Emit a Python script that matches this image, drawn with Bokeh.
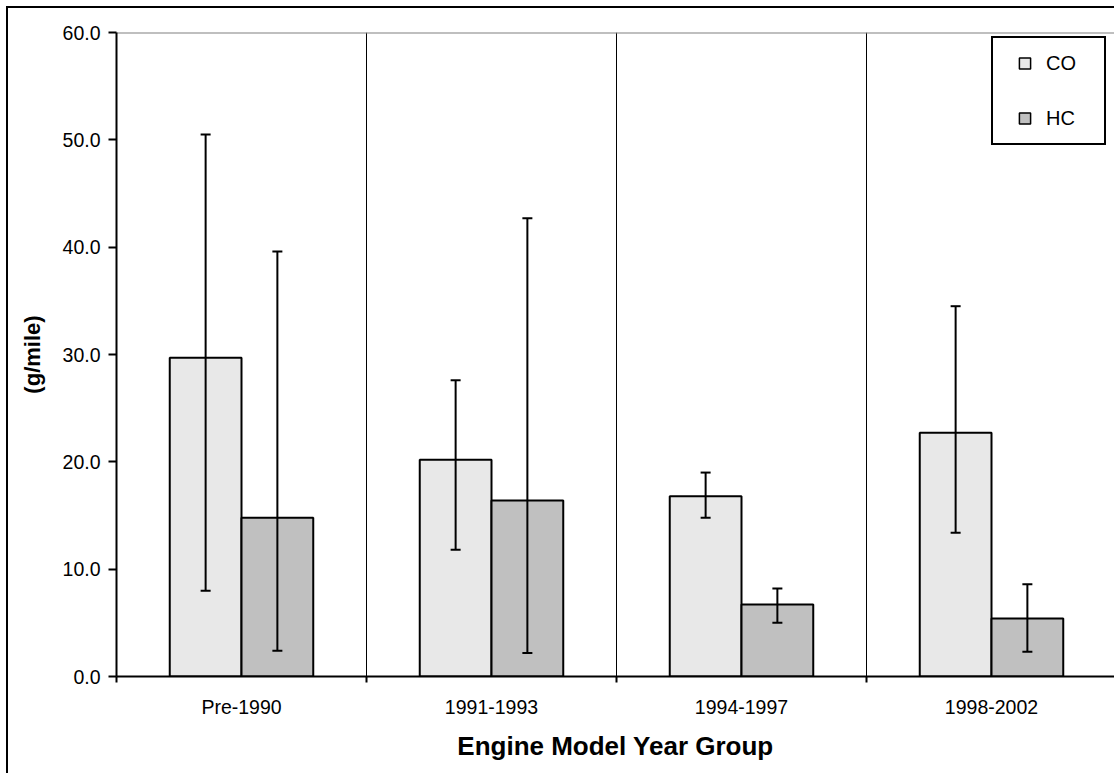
from bokeh.plotting import figure
from bokeh.models import (ColumnDataSource, Range1d, FixedTicker, Whisker, TeeHead,
                          Legend, LegendItem, PrintfTickFormatter, Span)
from bokeh.embed import file_html
from bokeh.resources import INLINE

# ---- data ----
categories = ["Pre-1990", "1991-1993", "1994-1997", "1998-2002"]
co_mean = [29.7, 20.2, 16.8, 22.7]
co_upper = [50.5, 27.6, 19.0, 34.5]
co_lower = [8.0, 11.8, 14.8, 13.4]
hc_mean = [14.8, 16.4, 6.7, 5.4]
hc_upper = [39.6, 42.7, 8.2, 8.6]
hc_lower = [2.4, 2.2, 5.0, 2.3]
y_ticks = [0, 10, 20, 30, 40, 50, 60]

FONT = "Liberation Sans"
CO_FILL = "#E8E8E8"
HC_FILL = "#C0C0C0"

n = len(categories)
centers = [i + 0.5 for i in range(n)]
bar_w = 0.287
co_x = [c - bar_w / 2 for c in centers]
hc_x = [c + bar_w / 2 for c in centers]

p = figure(width=1114, height=773, output_backend="svg", toolbar_location=None,
           x_range=Range1d(0, 3.992), y_range=Range1d(0, 60),
           min_border_left=116, min_border_top=32, min_border_bottom=97,
           min_border_right=0)
p.outline_line_color = None
p.background_fill_color = "white"
p.border_fill_color = None
# outer chart-area frame: only its left and top edges fall inside the picture
p.styles = {
    "background-color": "white",
    "background-image": "linear-gradient(#000, #000), linear-gradient(#000, #000)",
    "background-size": "2px 100%, 100% 2px",
    "background-position": "6px 6px, 6px 6px",
    "background-repeat": "no-repeat",
}

# grids: category separators and top line
p.xgrid.ticker = FixedTicker(ticks=[1, 2, 3])
p.xgrid.grid_line_color = "black"
p.xgrid.grid_line_width = 1
p.ygrid.grid_line_color = None
p.add_layout(Span(location=60, dimension="width", line_color="#808080",
                  line_width=2, level="underlay"))

co_src = ColumnDataSource(dict(x=co_x, top=co_mean, upper=co_upper, lower=co_lower))
hc_src = ColumnDataSource(dict(x=hc_x, top=hc_mean, upper=hc_upper, lower=hc_lower))

p.vbar(x="x", top="top", bottom=0, width=bar_w, source=co_src,
       fill_color=CO_FILL, line_color="black", line_width=2)
p.vbar(x="x", top="top", bottom=0, width=bar_w, source=hc_src,
       fill_color=HC_FILL, line_color="black", line_width=2)

for src in (co_src, hc_src):
    w = Whisker(base="x", upper="upper", lower="lower", source=src,
                line_color="black", line_width=2, level="annotation",
                upper_head=TeeHead(size=10, line_width=2, line_color="black"),
                lower_head=TeeHead(size=10, line_width=2, line_color="black"))
    p.add_layout(w)

# x axis
xa = p.xaxis[0]
xa.ticker = FixedTicker(ticks=centers, minor_ticks=[0, 1, 2, 3])
xa.major_label_overrides = {c: lab for c, lab in zip(centers, categories)}
xa.major_tick_line_color = None
xa.major_tick_out = 0
xa.major_tick_in = 0
xa.minor_tick_line_color = "black"
xa.minor_tick_line_width = 2
xa.minor_tick_out = 6
xa.minor_tick_in = 0
xa.axis_line_color = "black"
xa.axis_line_width = 2
xa.major_label_text_font = FONT
xa.major_label_text_font_size = "19.5px"
xa.major_label_text_color = "black"
xa.major_label_standoff = 13
xa.axis_label = "Engine Model Year Group"
xa.axis_label_text_font = FONT
xa.axis_label_text_font_style = "bold"
xa.axis_label_text_font_size = "26px"
xa.axis_label_text_color = "black"
xa.axis_label_standoff = 10

# y axis
ya = p.yaxis[0]
ya.ticker = FixedTicker(ticks=y_ticks)
ya.formatter = PrintfTickFormatter(format="%.1f")
ya.major_tick_out = 8
ya.major_tick_in = 0
ya.major_tick_line_width = 2
ya.major_tick_line_color = "black"
ya.minor_tick_line_color = None
ya.axis_line_color = "black"
ya.axis_line_width = 2
ya.major_label_text_font = FONT
ya.major_label_text_font_size = "19.5px"
ya.major_label_text_color = "black"
ya.major_label_standoff = 8
ya.axis_label = "(g/mile)"
ya.axis_label_text_font = FONT
ya.axis_label_text_font_style = "bold"
ya.axis_label_text_font_size = "22px"
ya.axis_label_text_color = "black"
ya.axis_label_standoff = 15

# legend (marker-only proxies)
nan = float("nan")
leg_co = p.scatter(x=[nan], y=[nan], marker="square", size=12, fill_color=CO_FILL,
                   line_color="black", line_width=1.5)
leg_hc = p.scatter(x=[nan], y=[nan], marker="square", size=12, fill_color=HC_FILL,
                   line_color="black", line_width=1.5)
legend = Legend(items=[LegendItem(label="CO", renderers=[leg_co], index=0),
                       LegendItem(label="HC", renderers=[leg_hc], index=0)],
                location=(875, 531), orientation="vertical",
                glyph_width=41, glyph_height=28, label_height=20, label_width=47,
                label_standoff=1, spacing=27, padding=11, margin=0,
                border_line_color="black", border_line_width=2, border_line_alpha=1,
                background_fill_color="white", background_fill_alpha=1,
                label_text_font=FONT, label_text_font_size="20px",
                label_text_color="black")
p.add_layout(legend, "center")

open("out.html", "w").write(file_html(p, INLINE))
